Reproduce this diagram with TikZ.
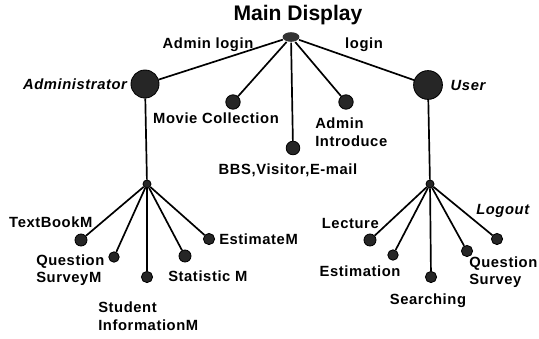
\documentclass[tikz,border=0pt]{standalone}
\usepackage{fontspec}
\setmainfont{Liberation Sans}
\newfontfamily\labelfont[LetterSpace=4]{Liberation Sans}
\usetikzlibrary{positioning, shapes.geometric}

\begin{document}
\begin{tikzpicture}[x=0.025cm, y=-0.025cm, line width=1.2pt,
    dot/.style={circle, fill=black!85, draw=black, line width=0.6pt, inner sep=0pt, minimum size=#1},
    lbl/.style={font=\labelfont\bfseries\fontsize{10.5}{12.5}\selectfont, align=left, inner sep=1pt},
    ilbl/.style={lbl, font=\labelfont\bfseries\itshape\fontsize{10.5}{12.5}\selectfont}]
    \useasboundingbox (0,0) rectangle (539,338);

    \node (title) at (298,15) [font=\bfseries\fontsize{15}{17}\selectfont] {Main Display};
    \node (root) at (291,37) [ellipse, fill=black!80, inner sep=0pt, minimum width=0.42cm, minimum height=0.24cm] {};

    \node (admin) at (145,84) [dot=0.7cm] {};
    \node (user) at (428,85) [dot=0.72cm] {};
    \node (movie) at (233,102) [dot=0.36cm] {};
    \node (bbs) at (293,148) [dot=0.34cm] {};
    \node (intro) at (346,102) [dot=0.36cm] {};
    \draw (root) -- (admin);
    \draw (root) -- (movie);
    \draw (root) -- (bbs);
    \draw (root) -- (intro);
    \draw (root) -- (user);

    \node (adminlogin) at (208,45) [lbl] {Admin login};
    \node (login) at (364,45) [lbl] {login};
    \node (adminT) [ilbl, left=1pt of admin] {Administrator};
    \node (userT) [ilbl, right=4pt of user] {User};
    \node (movieT) at (216,118) [lbl] {Movie Collection};
    \node (bbsT) at (288,170) [lbl] {BBS,Visitor,E-mail};
    \node (introT) at (313,132) [lbl, anchor=west] {Admin\\Introduce};

    % administrator menu
    \node (ahub) at (147,184) [dot=0.2cm] {};
    \draw (admin) -- (ahub);
    \node (text) at (81,240) [dot=0.3cm] {};
    \node (qsm) at (114,257) [dot=0.26cm] {};
    \node (stud) at (147,277) [dot=0.28cm] {};
    \node (stat) at (185,256) [dot=0.3cm] {};
    \node (est) at (209,239) [dot=0.28cm] {};
    \foreach \n in {text, qsm, stud, stat, est}
        \draw (ahub) -- (\n);
    \node (textT) at (7,222) [lbl, anchor=west] {TextBookM};
    \node (qsmT) at (34,270) [lbl, anchor=west] {Question\\SurveyM};
    \node (studT) at (96,316) [lbl, anchor=west] {Student\\InformationM};
    \node (statT) at (166,276) [lbl, anchor=west] {Statistic M};
    \node (estT) at (217,239) [lbl, anchor=west] {EstimateM};

    % user menu
    \node (uhub) at (430,184) [dot=0.2cm] {};
    \draw (user) -- (uhub);
    \node (lect) at (370,240) [dot=0.3cm] {};
    \node (estim) at (393,255) [dot=0.26cm] {};
    \node (search) at (431,277) [dot=0.28cm] {};
    \node (qs) at (467,251) [dot=0.28cm] {};
    \node (logout) at (497,239) [dot=0.28cm] {};
    \foreach \n in {lect, estim, search, qs, logout}
        \draw (uhub) -- (\n);
    \node (lectT) at (381,223) [lbl, anchor=east] {Lecture};
    \node (estimT) at (360,271) [lbl] {Estimation};
    \node (searchT) at (428,301) [lbl] {Searching};
    \node (qsT) at (467,272) [lbl, anchor=west] {Question\\Survey};
    \node (logoutT) at (474,211) [ilbl, anchor=west] {Logout};
\end{tikzpicture}
\end{document}
